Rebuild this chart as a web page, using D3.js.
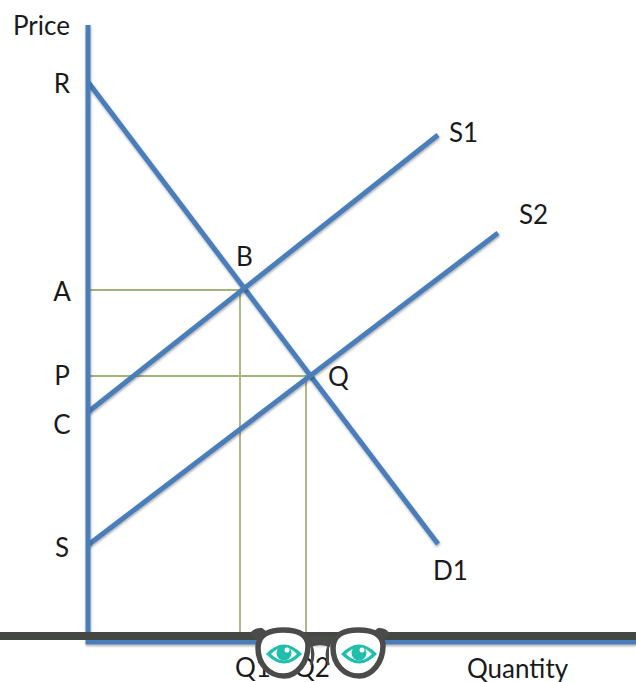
<!DOCTYPE html>
<html>
<head>
<meta charset="utf-8">
<script src="https://cdn.jsdelivr.net/npm/d3@7"></script>
<style>
  html, body { margin: 0; padding: 0; background: #fff; overflow: hidden; }
  text { font-family: Lato, "Open Sans", sans-serif; font-size: 26px; fill: #1a1a1a; }
</style>
</head>
<body>
<div id="chart"></div>
<script>
// values, in plot units from the origin
const demandX = [0, 350];
const demandY = [558, 96];
const supply1X = [0, 350];
const supply1Y = [228, 505];
const supply2X = [0, 410];
const supply2Y = [95, 407];

const guidePrice = [350, 264];
const guideQuantity = [152, 218];

const priceLabels = ["R", "A", "P", "C", "S"];
const priceLabelValues = [556, 348, 264, 215, 92];
const quantityLabels = ["Q1", "Q2"];
const quantityLabelValues = [165, 224];

const width = 636, height = 682;
const x = d3.scaleLinear().domain([0, 548]).range([88, 636]);
const y = d3.scaleLinear().domain([0, 640]).range([640, 0]);

const svg = d3.select("#chart").append("svg")
  .attr("width", width)
  .attr("height", height);

// soft shadow under the blue lines
const blur = svg.append("defs").append("filter").attr("id", "soft")
  .attr("x", "-5%").attr("y", "-5%").attr("width", "110%").attr("height", "110%");
blur.append("feDropShadow")
  .attr("dx", 0.5).attr("dy", 1.5).attr("stdDeviation", 1)
  .attr("flood-color", "#000").attr("flood-opacity", 0.35);

const line = d3.line();

// guides
guidePrice.forEach((p, i) => {
  const q = guideQuantity[i];
  const gridColor = "#a3b37c";
  svg.append("path")
    .attr("d", line([[x(0), y(p)], [x(q + 3), y(p)]]))
    .attr("stroke", gridColor).attr("stroke-width", 1.8).attr("fill", "none");
  svg.append("path")
    .attr("d", line([[x(q), y(p)], [x(q), y(0)]]))
    .attr("stroke", gridColor).attr("stroke-width", 1.8).attr("fill", "none");
});

// supply and demand
const curves = [
  [demandX, demandY],
  [supply1X, supply1Y],
  [supply2X, supply2Y]
];
const blue = "#4a7ebb";
curves.forEach(c => {
  svg.append("path")
    .attr("d", line(c[0].map((v, i) => [x(v), y(c[1][i])])))
    .attr("stroke", blue).attr("stroke-width", 5).attr("fill", "none")
    .attr("filter", "url(#soft)");
});

// axes
svg.append("path")
  .attr("d", line([[x(0), y(615)], [x(0), y(-2)], [x(548), y(-2)]]))
  .attr("stroke", blue).attr("stroke-width", 5).attr("fill", "none")
  .attr("filter", "url(#soft)");

// dark bar along the bottom of the frame
svg.append("rect")
  .attr("x", 0).attr("y", 632).attr("width", width).attr("height", 8)
  .attr("fill", "#454745");

// text
svg.append("text").attr("x", 13).attr("y", 35).text("Price");
priceLabels.forEach((t, i) => {
  svg.append("text")
    .attr("x", 62).attr("y", y(priceLabelValues[i]) + 9)
    .attr("text-anchor", "middle").text(t);
});
svg.append("text").attr("x", 236).attr("y", 266).text("B");
svg.append("text").attr("x", 328).attr("y", 386).text("Q");
svg.append("text").attr("x", 449).attr("y", 142).text("S1");
svg.append("text").attr("x", 519).attr("y", 224).text("S2");
svg.append("text").attr("x", 433).attr("y", 580).text("D1");
quantityLabels.forEach((t, i) => {
  svg.append("text")
    .attr("x", x(quantityLabelValues[i])).attr("y", 677)
    .attr("text-anchor", "middle").text(t);
});
svg.append("text").attr("x", 467).attr("y", 678).text("Quantity");

// glasses sitting on the bottom bar
const dark = "#4a4b4a", teal = "#20bfab";
const glasses = svg.append("g").attr("transform", "translate(320,652)");

glasses.append("path")
  .attr("d", "M-70,-18 Q-66,-25 -58,-24 L-50,-18 L-58,-8 Z M70,-18 Q66,-25 58,-24 L50,-18 L58,-8 Z")
  .attr("fill", dark);
glasses.append("path")
  .attr("d", "M-12,-15 L12,-15 L9,-6 Q0,-10 -9,-6 Z M-9,-7 Q-4,2 -9,13 M9,-7 Q4,2 9,13")
  .attr("fill", dark).attr("stroke", dark).attr("stroke-width", 2);

[-37, 38].forEach(cx => {
  const lens = glasses.append("g").attr("transform", `translate(${cx},0)`);
  lens.append("path")
    .attr("d", "M-25,-4 C-25,-18 -12,-22 0,-22 C14,-22 25,-18 25,-6 C25,10 14,24 1,24 C-14,24 -25,12 -25,-4 Z")
    .attr("fill", "#fff").attr("stroke", dark).attr("stroke-width", 5.5);
  const eye = lens.append("g").attr("transform", "translate(1,2)");
  eye.append("path")
    .attr("d", "M-18,0 Q0,-19 18,0 Q0,19 -18,0 Z")
    .attr("fill", teal);
  eye.append("path")
    .attr("d", "M-13,0 Q0,-13 13,0 Q0,13 -13,0 Z")
    .attr("fill", "#fff");
  eye.append("circle").attr("cy", -1).attr("r", 7.5).attr("fill", teal);
  eye.append("circle").attr("cx", 3).attr("cy", -4).attr("r", 2.5).attr("fill", "#fff");
});
</script>
</body>
</html>
